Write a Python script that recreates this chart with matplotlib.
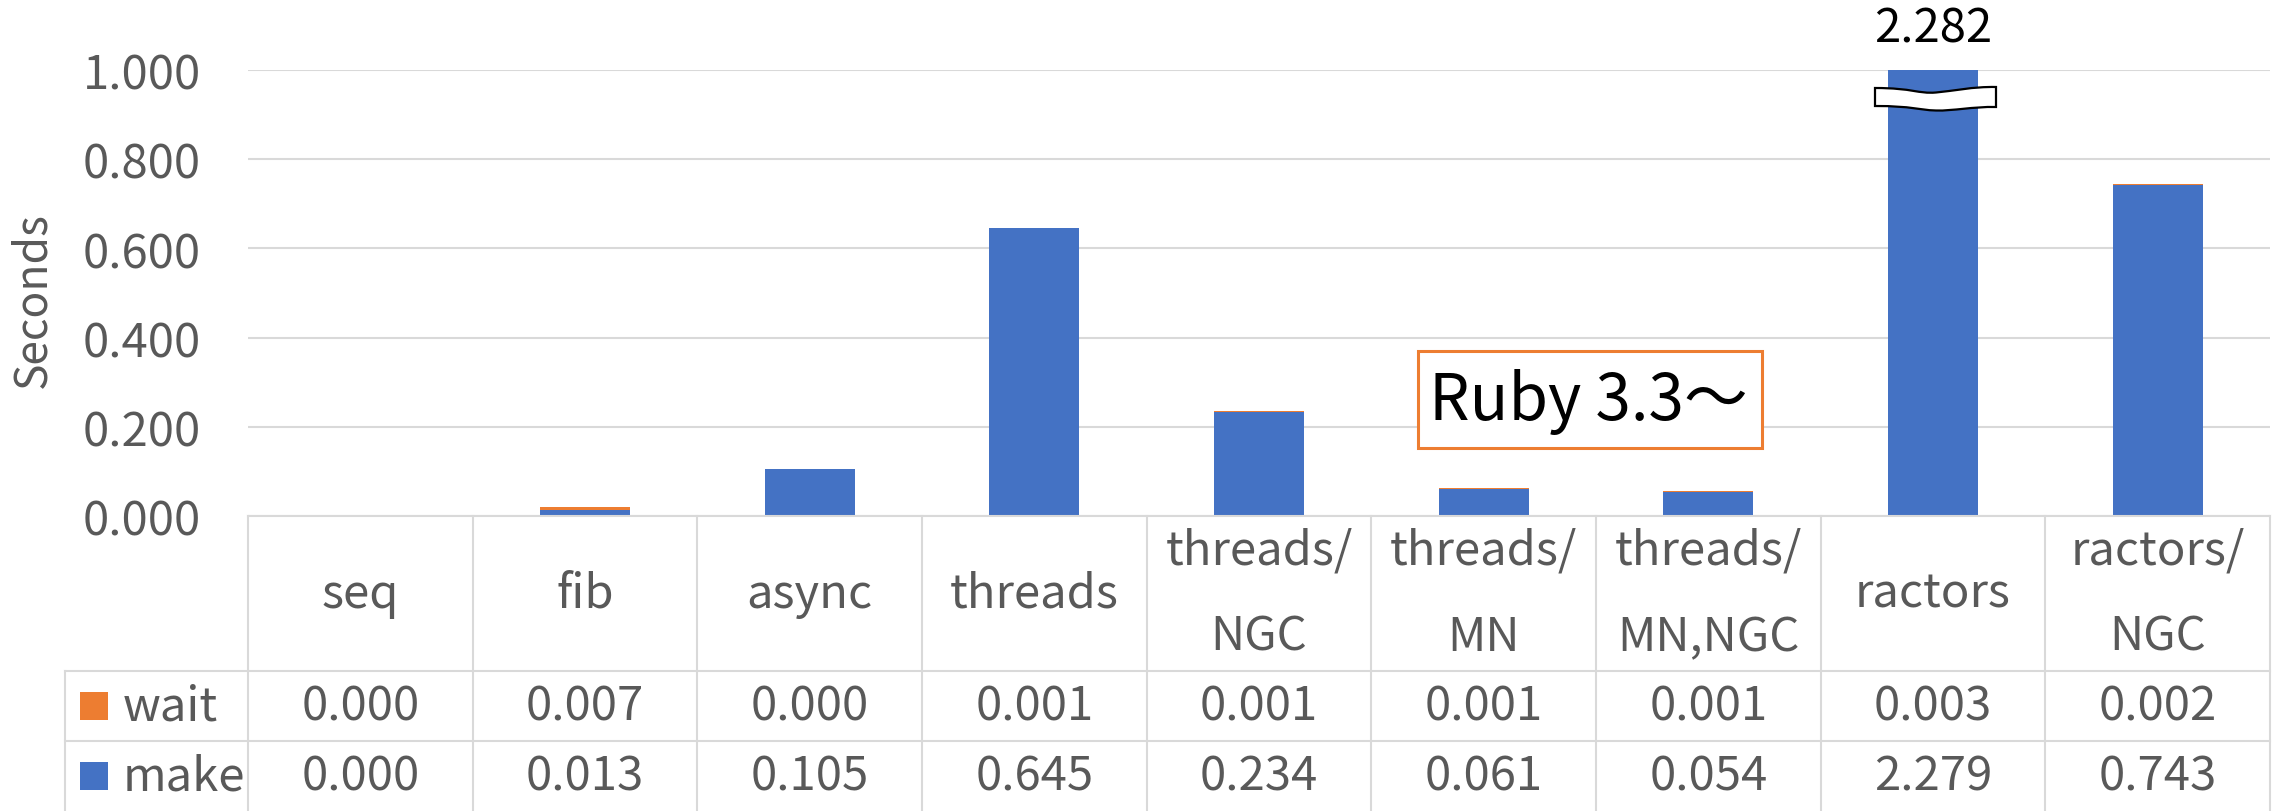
import matplotlib
matplotlib.use("Agg")
import matplotlib.pyplot as plt
from matplotlib.path import Path
from matplotlib.patches import PathPatch, Rectangle
from matplotlib.transforms import Affine2D, ScaledTranslation, blended_transform_factory
from matplotlib.lines import Line2D

plt.rcParams['font.family'] = ['Noto Sans CJK JP', 'DejaVu Sans']

# ---- data ----
categories = ["seq", "fib", "async", "threads", "threads/\nNGC", "threads/\nMN",
              "threads/\nMN,NGC", "ractors", "ractors/\nNGC"]
wait = [0.000, 0.007, 0.000, 0.001, 0.001, 0.001, 0.001, 0.003, 0.002]
make = [0.000, 0.013, 0.105, 0.645, 0.234, 0.061, 0.054, 2.279, 0.743]
series_names = ["wait", "make"]
yticks = [0.0, 0.2, 0.4, 0.6, 0.8, 1.0]
ymax = 1.0
note_text = "Ruby 3.3～"

# ---- style ----
W, H, DPI = 2281, 812, 100
BLUE = '#4472C4'
ORANGE = '#ED7D31'
GRAY = '#595959'
LINE = '#D9D9D9'
FS = 34

fig = plt.figure(figsize=(W / DPI, H / DPI), dpi=DPI)
px_l, px_r, px_base, px_top = 248, 2270, 517, 71
ax = fig.add_axes([px_l / W, (H - px_base) / H, (px_r - px_l) / W, (px_base - px_top) / H])

n = len(categories)
x = list(range(n))
ax.bar(x, make, width=0.4, color=BLUE, zorder=3)
ax.bar(x, wait, width=0.4, bottom=make, color=ORANGE, zorder=3)

ax.set_xlim(-0.5, n - 0.5)
ax.set_ylim(0, ymax)
ax.set_yticks(yticks)
ax.set_yticklabels([f"{v:.3f}" for v in yticks], fontsize=FS, color=GRAY)
ax.tick_params(axis='y', length=0, pad=34)
ax.set_xticks([])
for s in ax.spines.values():
    s.set_visible(False)
ax.grid(axis='y', color=LINE, lw=1.5, zorder=0)
ax.set_axisbelow(True)

fig.text(32 / W, (H - 300) / H, "Seconds", rotation=90, fontsize=32, color=GRAY,
         ha='center', va='center')

# ---- broken bar marker + total label ----
totals = [m + w for m, w in zip(make, wait)]
bi = max(range(n), key=lambda i: totals[i])
ax.annotate(f"{totals[bi]:.3f}", xy=(bi, ymax), xytext=(0, 30), textcoords='offset points',
            ha='center', va='center', fontsize=FS, color='black', annotation_clip=False)
C = Path.CURVE4
verts = [(-58, -18), (-20, -18), (-15, -24), (3, -22.5), (20, -21), (40, -16.5), (63, -17),
         (63, -37), (40, -36.5), (20, -41), (3, -40.5), (-15, -40), (-20, -36), (-58, -36),
         (-58, -18)]
codes = [Path.MOVETO, C, C, C, C, C, C, Path.LINETO, C, C, C, C, C, C, Path.CLOSEPOLY]
tr = Affine2D() + ScaledTranslation(bi, ymax, ax.transData)
ax.add_patch(PathPatch(Path(verts, codes), facecolor='white', edgecolor='black', lw=1.6,
                       transform=tr, zorder=5, clip_on=False))

# ---- note box ----
ax.add_patch(Rectangle((4.707, 0.152), 6.238 - 4.707, 0.370 - 0.152, fill=True,
                       facecolor='white', edgecolor=ORANGE, lw=2.2, zorder=4))
ax.text(5.468, 0.2175, note_text, ha='center', va='baseline', fontsize=46, color='black', zorder=6)

# ---- data table ----
bt = blended_transform_factory(ax.transData, fig.transFigure)
def fy(p):
    return (H - p) / H
def fx(p):
    return p / W

rows_y = [px_base, 672, 742, 812]
# horizontal lines
fig.add_artist(Line2D([fx(px_l), fx(px_r)], [fy(px_base)] * 2, color=LINE, lw=1.5))
for yy in rows_y[1:3]:
    fig.add_artist(Line2D([fx(65), fx(px_r)], [fy(yy)] * 2, color=LINE, lw=1.5))
# vertical lines
for i in range(n + 1):
    fig.add_artist(Line2D([i - 0.5, i - 0.5], [fy(px_base), 0], color=LINE, lw=1.5, transform=bt))
fig.add_artist(Line2D([fx(65), fx(65)], [fy(672), 0], color=LINE, lw=1.5))

hdr_c = (px_base + 672) / 2
for i, c in enumerate(categories):
    fig.text(i, fy(hdr_c), c, transform=bt, ha='center', va='center', fontsize=FS,
             color=GRAY, linespacing=2.0)

series_vals = [wait, make]
series_cols = [ORANGE, BLUE]
for r, (name, vals, col) in enumerate(zip(series_names, series_vals, series_cols)):
    yc = (rows_y[r + 1] + rows_y[r + 2]) / 2
    for i, v in enumerate(vals):
        fig.text(i, fy(yc), f"{v:.3f}", transform=bt, ha='center', va='center',
                 fontsize=FS, color=GRAY)
    fig.add_artist(Rectangle((fx(80), fy(yc + 14)), 28 / W, 28 / H, facecolor=col,
                             edgecolor='none', transform=fig.transFigure))
    fig.text(fx(123), fy(yc), name, ha='left', va='center', fontsize=FS, color=GRAY)

fig.savefig("out.png", dpi=DPI)
